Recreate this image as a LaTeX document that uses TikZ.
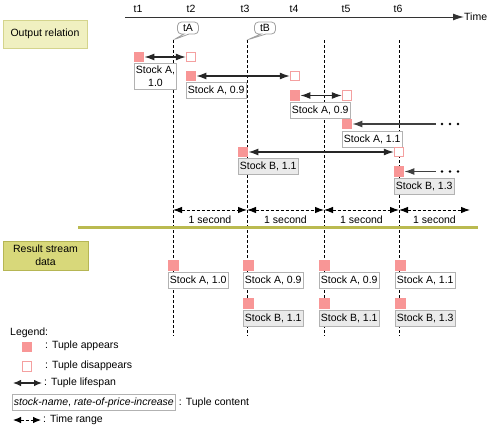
\documentclass[tikz,border=0pt]{standalone}
\usepackage{fontspec}
\setmainfont{Liberation Sans}
\usetikzlibrary{arrows.meta,shapes.callouts}
\definecolor{pinkf}{RGB}{248,150,150}
\definecolor{pinkd}{RGB}{244,160,160}
\definecolor{lblgray}{RGB}{178,178,178}
\definecolor{bfill}{RGB}{234,234,234}
\definecolor{olivel}{RGB}{186,186,80}
\definecolor{outfill}{RGB}{240,240,192}
\definecolor{outdraw}{RGB}{212,212,140}
\definecolor{resfill}{RGB}{216,216,122}
\definecolor{resdraw}{RGB}{182,182,84}
\definecolor{calloutgray}{RGB}{160,160,160}
\begin{document}
\begin{tikzpicture}[x=1pt,y=-1pt, font=\fontsize{10.5}{13}\selectfont,
 appear/.style={fill=pinkf, minimum size=10.5pt, inner sep=0pt, draw=none},
 disappear/.style={draw=pinkd, fill=white, line width=1pt, minimum size=9.5pt, inner sep=0pt},
 lbl/.style={draw=lblgray, line width=0.9pt, fill=white, inner xsep=1.5pt, inner ysep=0pt, minimum height=16pt, anchor=north west},
 lblB/.style={lbl, fill=bfill},
 tipL/.tip={Latex[length=10pt,width=7pt]},
 tipR/.tip={Latex[length=9pt,width=6.5pt]},
 tipS/.tip={Latex[length=8pt,width=6.5pt]},
 lifearrow/.style={line width=1.1pt, draw=black!85, tipL-tipL},
 lifeleft/.style={line width=1.1pt, draw=black!75, tipL-},
 vdash/.style={dash pattern=on 3pt off 2pt, line width=0.8pt, black},
 timerange/.style={dash pattern=on 3pt off 2pt, line width=0.9pt, black, tipR-tipR},
 axisline/.style={line width=1pt, black!80, -{Latex[length=11pt,width=7pt]}},
 plaintext/.style={inner sep=0pt},
 bubble/.style={rectangle callout, rounded corners=4pt, draw=calloutgray, line width=0.8pt, fill=white, inner xsep=2pt, inner ysep=0pt, minimum height=12pt, minimum width=21pt, callout pointer width=5pt}
]
\useasboundingbox (0,0) rectangle (491,429);

% header boxes
\node[draw=outdraw, fill=outfill, line width=0.9pt, minimum width=84pt, minimum height=28pt, inner sep=0pt] (outrel) at (45,34) {Output relation};
\node[draw=resdraw, fill=resfill, line width=0.9pt, minimum width=85pt, minimum height=29pt, inner sep=0pt, align=center] (resstream) at (45.5,255.5) {Result stream\\data};

% time axis
\node[plaintext, anchor=west] (time) at (464,17) {Time};
\coordinate (ax0) at (125,17);
\draw[axisline] (ax0) -- (time.west);
\node[plaintext] (t1) at (138,9) {t1};
\node[plaintext] (t2) at (191,9) {t2};
\node[plaintext] (t3) at (245,9) {t3};
\node[plaintext] (t4) at (294,9) {t4};
\node[plaintext] (t5) at (346,9) {t5};
\node[plaintext] (t6) at (398,9) {t6};

% vertical dashed lines
\coordinate (vA0) at (173,40); \coordinate (vA1) at (173,336);
\coordinate (vB0) at (247,40); \coordinate (vB1) at (247,336);
\coordinate (vC0) at (324,40); \coordinate (vC1) at (324,336);
\coordinate (vD0) at (399,40); \coordinate (vD1) at (399,336);
\draw[vdash] (vA0) -- (vA1);
\draw[vdash] (vB0) -- (vB1);
\draw[vdash] (vC0) -- (vC1);
\draw[vdash] (vD0) -- (vD1);

% callouts
\node[bubble, callout absolute pointer={(vA0)}] (tA) at (188,28) {tA};
\node[bubble, callout absolute pointer={(vB0)}] (tB) at (265,28) {tB};

% tuples of the output relation
\node[appear] (a1) at (139,57) {};
\node[disappear] (d1) at (191,57) {};
\draw[lifearrow] (a1) -- (d1);
\node[lbl, align=center, minimum width=42pt, minimum height=26pt] (l1) at (134,63) {Stock A,\\1.0};

\node[appear] (a2) at (191,76) {};
\node[disappear] (d2) at (295,76) {};
\draw[lifearrow] (a2) -- (d2);
\node[lbl] (l2) at (186,82) {Stock A, 0.9};

\node[appear] (a3) at (295,95.5) {};
\node[disappear] (d3) at (347,95.5) {};
\draw[lifearrow] (a3) -- (d3);
\node[lbl] (l3) at (290,102) {Stock A, 0.9};

\node[appear] (a4) at (347,124) {};
\coordinate (e4) at (436,124);
\draw[lifeleft] (a4) -- (e4);
\node[lbl] (l4) at (342,131) {Stock A, 1.1};

\node[appear] (a5) at (243,152) {};
\node[disappear] (d5) at (399,152) {};
\draw[lifearrow] (a5) -- (d5);
\node[lblB] (l5) at (238,158) {Stock B, 1.1};

\node[appear] (a6) at (399,171.5) {};
\coordinate (e6) at (436,171.5);
\draw[lifeleft] (a6) -- (e6);
\node[lblB] (l6) at (394,178) {Stock B, 1.3};

\foreach \x in {442,450,458} {
  \fill (\x,124) circle (1.4pt);
  \fill (\x,171.5) circle (1.4pt);
}

% time ranges
\coordinate (r1) at (173,210); \coordinate (r2) at (247,210);
\coordinate (r3) at (324,210); \coordinate (r4) at (399,210);
\coordinate (r5) at (470,210);
\draw[timerange] (r1) -- (r2);
\draw[timerange] (r2) -- (r3);
\draw[timerange] (r3) -- (r4);
\draw[timerange] (r4) -- (r5);
\node[plaintext] (s1) at (210,219.5) {1 second};
\node[plaintext] (s2) at (285.5,219.5) {1 second};
\node[plaintext] (s3) at (361.5,219.5) {1 second};
\node[plaintext] (s4) at (434.5,219.5) {1 second};

% separator
\coordinate (sep0) at (78,227); \coordinate (sep1) at (478,227);
\draw[line width=3pt, olivel] (sep0) -- (sep1);

% result stream data
\node[appear, anchor=north west] (ra1) at (168,260) {};
\node[lbl] (rl1) at (168,272) {Stock A, 1.0};
\node[appear, anchor=north west] (ra2) at (243,260) {};
\node[lbl] (rl2) at (243,272) {Stock A, 0.9};
\node[appear, anchor=north west] (ra3) at (319,260) {};
\node[lbl] (rl3) at (319,272) {Stock A, 0.9};
\node[appear, anchor=north west] (ra4) at (395,260) {};
\node[lbl] (rl4) at (395,272) {Stock A, 1.1};
\node[appear, anchor=north west] (rb2) at (243,298) {};
\node[lblB] (rm2) at (243,310) {Stock B, 1.1};
\node[appear, anchor=north west] (rb3) at (319,298) {};
\node[lblB] (rm3) at (319,310) {Stock B, 1.1};
\node[appear, anchor=north west] (rb4) at (395,298) {};
\node[lblB] (rm4) at (395,310) {Stock B, 1.3};

% legend
\node[plaintext, anchor=west] (leg) at (10,333) {Legend:};
\node[appear] (lg1) at (27,347) {};
\node[plaintext, anchor=west] (lg1t) at (45,346) {: Tuple appears};
\node[disappear] (lg2) at (27,366.5) {};
\node[plaintext, anchor=west] (lg2t) at (45,365.5) {: Tuple disappears};
\coordinate (lg3a) at (13,383); \coordinate (lg3b) at (42,383);
\draw[line width=1.1pt, black!85, tipS-tipS] (lg3a) -- (lg3b);
\node[plaintext, anchor=west] (lg3t) at (44,383) {: Tuple lifespan};
\node[lbl] (lg4) at (12,394) {\textit{stock-name}, \textit{rate-of-price-increase}};
\node[plaintext, anchor=west] (lg4t) at ([xshift=3pt]lg4.east) {: Tuple content};
\coordinate (lg5a) at (13,420); \coordinate (lg5b) at (41,420);
\draw[dash pattern=on 3pt off 2pt, line width=0.9pt, black, tipS-tipS] (lg5a) -- (lg5b);
\node[plaintext, anchor=west] (lg5t) at (43,420) {: Time range};
\end{tikzpicture}
\end{document}
